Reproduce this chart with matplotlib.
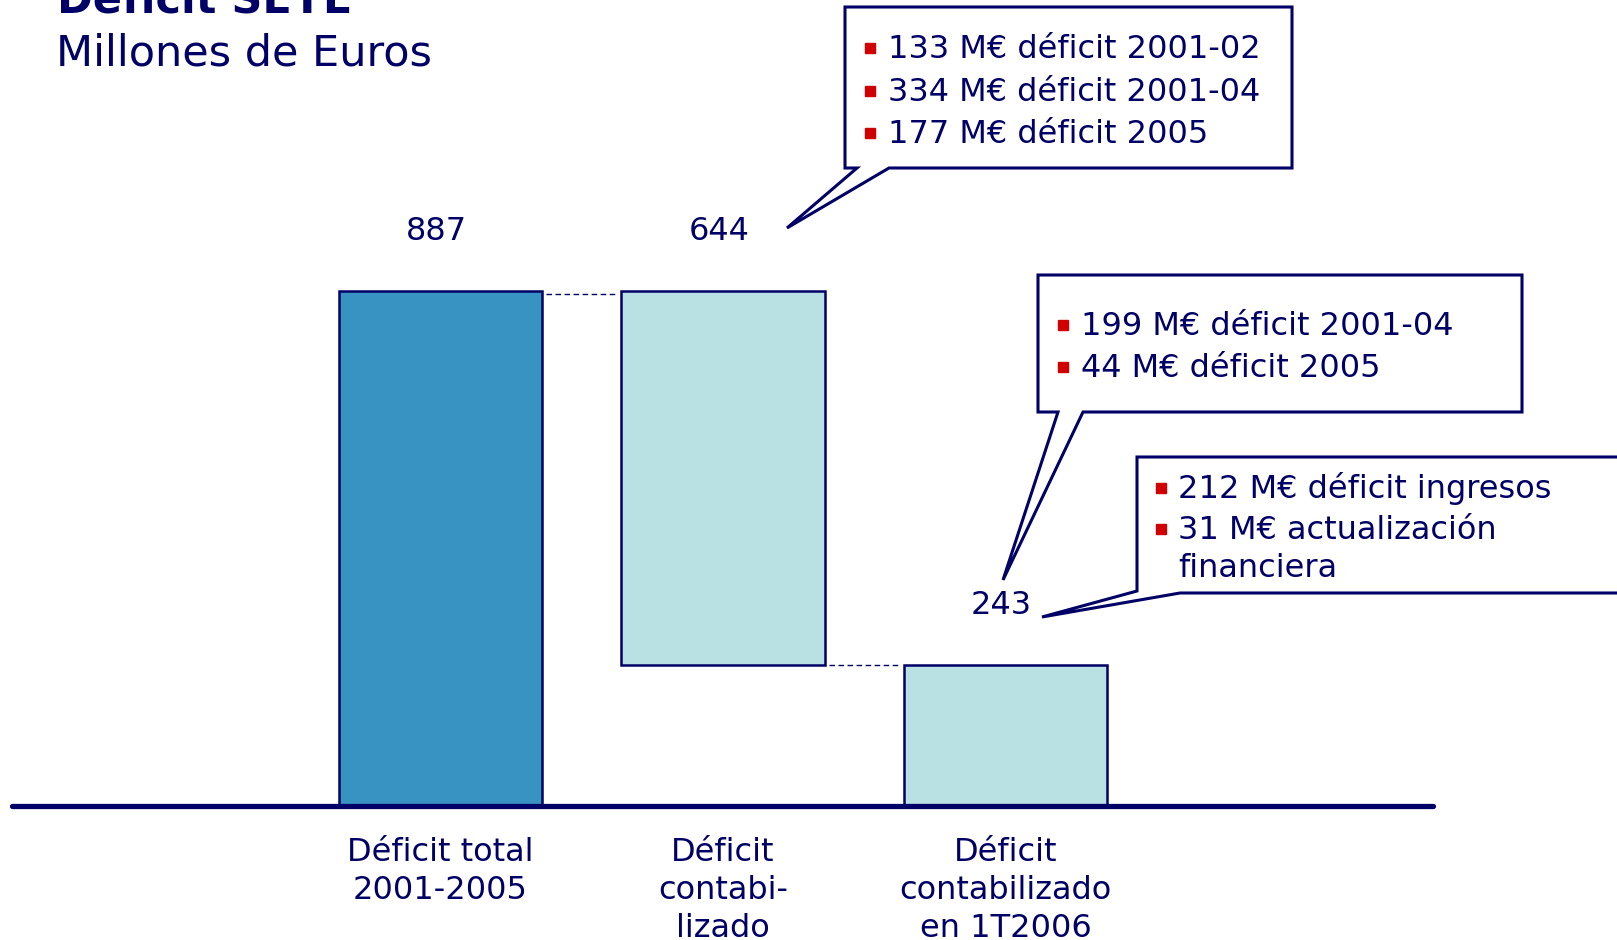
import matplotlib
matplotlib.use("Agg")
import matplotlib.pyplot as plt
from matplotlib.patches import Polygon

# data
categories = ["Déficit total\n2001-2005", "Déficit\ncontabi-\nlizado", "Déficit\ncontabilizado\nen 1T2006"]
values = [887, 644, 243]
bottoms = [0, 243, 0]
bar_colors = ["#3993C2", "#B9E0E3", "#B9E0E3"]

notes_1 = ["133 M€ déficit 2001-02", "334 M€ déficit 2001-04", "177 M€ déficit 2005"]
notes_2 = ["199 M€ déficit 2001-04", "44 M€ déficit 2005"]
notes_3 = ["212 M€ déficit ingresos", "31 M€ actualización\nfinanciera"]

navy = "#000066"
red = "#D00000"
plt.rcParams['font.family'] = ['DejaVu Sans']

W, H = 1617, 940
fig = plt.figure(figsize=(W / 100, H / 100), dpi=100)

# main axes: bars in data units, placed to match the slide layout
cat_px, x0_px = 282.6, 440.4
base_px = 134          # baseline height from bottom (px)
unit_px = 515 / 887    # px per M€
ax = fig.add_axes([0, 0, 1, 1])
ax.set_xlim(-x0_px / cat_px, (W - x0_px) / cat_px)
ax.set_ylim(-base_px / unit_px, (H - base_px) / unit_px)
ax.axis("off")

bw = 0.72
xs = list(range(len(values)))
tops = [b + v for b, v in zip(bottoms, values)]
heights = [t - b for t, b in zip(tops, bottoms)]
ax.bar(xs, heights, bottom=bottoms, width=bw, color=bar_colors,
       edgecolor=navy, linewidth=1.8, zorder=2)

# dashed connectors between bars
for i in range(len(xs) - 1):
    level = bottoms[i] if i > 0 else tops[i] - 5
    ax.plot([xs[i] + bw / 2 + 0.015, xs[i + 1] - bw / 2 - 0.02], [level, level],
            color=navy, lw=1, ls=(0, (4, 2.5)), zorder=1)

# value labels
for x, t, v in zip(xs, tops, values):
    ax.annotate(str(v), (x, t), xytext=(-3, 43), textcoords="offset points",
                ha="center", va="center", fontsize=23, color=navy)

# baseline
ax.plot([(12 - x0_px) / cat_px, (1433 - x0_px) / cat_px], [0, 0],
        color=navy, lw=3.8, solid_capstyle="round", zorder=3)

# category labels, line by line
for x, lab in zip(xs, categories):
    for k, line in enumerate(lab.split("\n")):
        ax.annotate(line, (x, 0), xytext=(0, -(55 + 38 * k) * 0.72),
                    textcoords="offset points", ha="center", va="baseline",
                    fontsize=23, color=navy)

# overlay in pixel coordinates for titles and callouts
ov = fig.add_axes([0, 0, 1, 1])
ov.set_xlim(0, W)
ov.set_ylim(H, 0)
ov.axis("off")
ov.patch.set_alpha(0)

ov.text(57, 13, "Déficit SEYE", fontsize=31, fontweight="bold", color=navy,
        ha="left", va="baseline")
ov.text(56, 65, "Millones de Euros", fontsize=31, color=navy,
        ha="left", va="baseline")

callouts = [
    ([(845, 7), (1292, 7), (1292, 168), (889, 168), (787, 228), (857, 168), (845, 168)],
     notes_1, 866, 888, [58, 101, 143]),
    ([(1038, 275), (1522, 275), (1522, 412), (1083, 412), (1003, 580), (1058, 412), (1038, 412)],
     notes_2, 1059, 1081, [335, 377]),
    ([(1137, 457), (1660, 457), (1660, 593), (1180, 593), (1042, 617), (1137, 591)],
     notes_3, 1157, 1178, [498, 539, 577]),
]
for pts, notes, bx, tx, ys in callouts:
    ov.add_patch(Polygon(pts, closed=True, facecolor="white", edgecolor=navy,
                         lw=2.2, joinstyle="miter", clip_on=False, zorder=4))
    k = 0
    for note in notes:
        for j, line in enumerate(note.split("\n")):
            y = ys[k]
            if j == 0:
                ov.plot(bx + 4, y - 10, marker="s", ms=6.5, color=red, mec=red, zorder=5)
            ov.text(tx, y, line, fontsize=23, color=navy, ha="left", va="baseline",
                    zorder=5)
            k += 1

fig.savefig("out.png", dpi=100)
